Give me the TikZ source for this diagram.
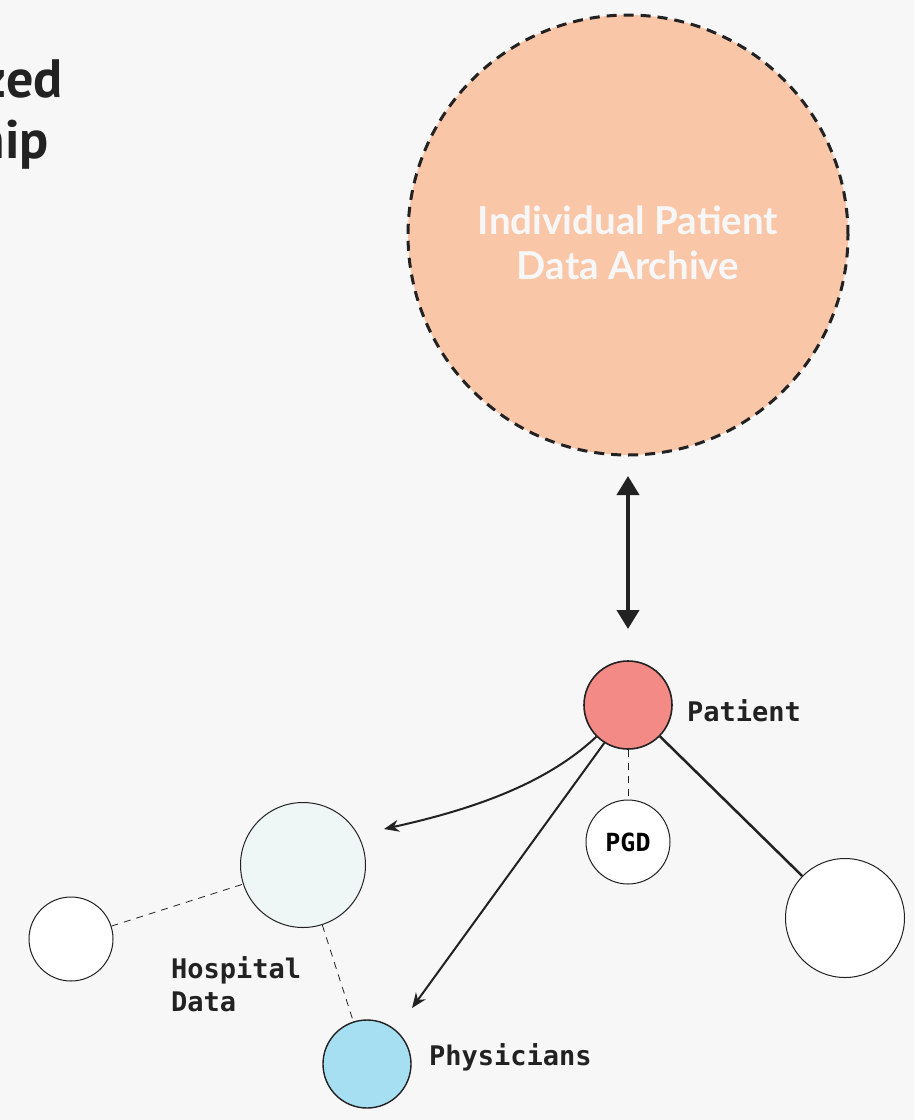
\documentclass[tikz,border=0pt]{standalone}
\usepackage{fontspec}
\setmainfont{PT Sans}
\newfontfamily\archivefont{Lato}
\newfontfamily\labelfont{DejaVu Sans Mono}
\usetikzlibrary{arrows.meta}
\definecolor{bgcol}{HTML}{F7F7F7}
\definecolor{inkcol}{HTML}{222222}
\definecolor{archivefill}{HTML}{FAC6A8}
\definecolor{patientfill}{HTML}{F48A85}
\definecolor{hospitalfill}{HTML}{EEF7F5}
\definecolor{physfill}{HTML}{A6DEF2}
\tikzset{
  ring/.style={circle, draw=inkcol, line width=1pt, inner sep=0pt, minimum size=#1},
  tag/.style={font=\labelfont\bfseries\fontsize{27}{33}\selectfont, text=inkcol, align=left, inner sep=0pt},
  thinlink/.style={draw=inkcol, line width=0.8pt, dash pattern=on 7pt off 6pt},
  flow/.style={draw=inkcol, line width=2pt, -{Stealth[length=15pt,width=12pt]}},
  heading/.style={font=\bfseries\fontsize{54}{61}\selectfont, text=inkcol, anchor=base east, inner sep=0pt},
}
\begin{document}
\begin{tikzpicture}[x=1pt,y=-1pt]
\fill[bgcol] (0,0) rectangle (914,1120);
\useasboundingbox (0,0) rectangle (914,1120);

% heading, running off the left edge
\node[heading] (t1) at (63,97) {zed};
\node[heading] (t2) at (49,158) {hip};

% archive
\node[circle, fill=archivefill, draw=inkcol, line width=3pt, dash pattern=on 10pt off 7pt,
      minimum size=440pt, inner sep=0pt] (archive) at (628,235) {};
\node[font=\archivefont\bfseries\fontsize{38.5}{45}\selectfont, text=bgcol, align=center] (archtext) at (628,243)
  {Individual Patient\\Data Archive};

% nodes
\node[ring=88pt, fill=patientfill, line width=1.6pt] (patient) at (628,705) {};
\node[tag, anchor=base west] (patlabel) at (687,721) {Patient};
\node[ring=84pt, fill=white] (pgd) at (628,842) {\labelfont\bfseries\fontsize{25}{30}\selectfont PGD};
\node[ring=125pt, fill=hospitalfill] (hospital) at (303,865) {};
\node[ring=84pt, fill=white] (leftc) at (71,939) {};
\node[ring=88pt, fill=physfill, line width=1.4pt] (phys) at (367,1064) {};
\node[ring=119pt, fill=white] (rightc) at (845,918) {};
\node[tag, anchor=base west] (hosplabel) at (171,1011) {Hospital\\Data};
\node[tag, anchor=base west] (physlabel) at (429,1065) {Physicians};

% archive <-> patient
\coordinate (upper) at (628,476);
\coordinate (lower) at (628,629);
\draw[inkcol, line width=4pt, {Triangle[length=19pt,width=22pt]}-{Triangle[length=19pt,width=22pt]}] (upper) -- (lower);

% links
\draw[thinlink] (patient) -- (pgd);
\draw[thinlink] (leftc) -- (hospital);
\draw[thinlink] (hospital) -- (phys);
\draw[inkcol, line width=2.5pt] (patient) -- (rightc);

\coordinate (hosptip) at (384,829);
\coordinate (phystip) at (412,1008);
\draw[flow] (patient.225) .. controls (545,785) and (470,810) .. (hosptip);
\draw[flow] (patient.238) -- (phystip);
\end{tikzpicture}
\end{document}
